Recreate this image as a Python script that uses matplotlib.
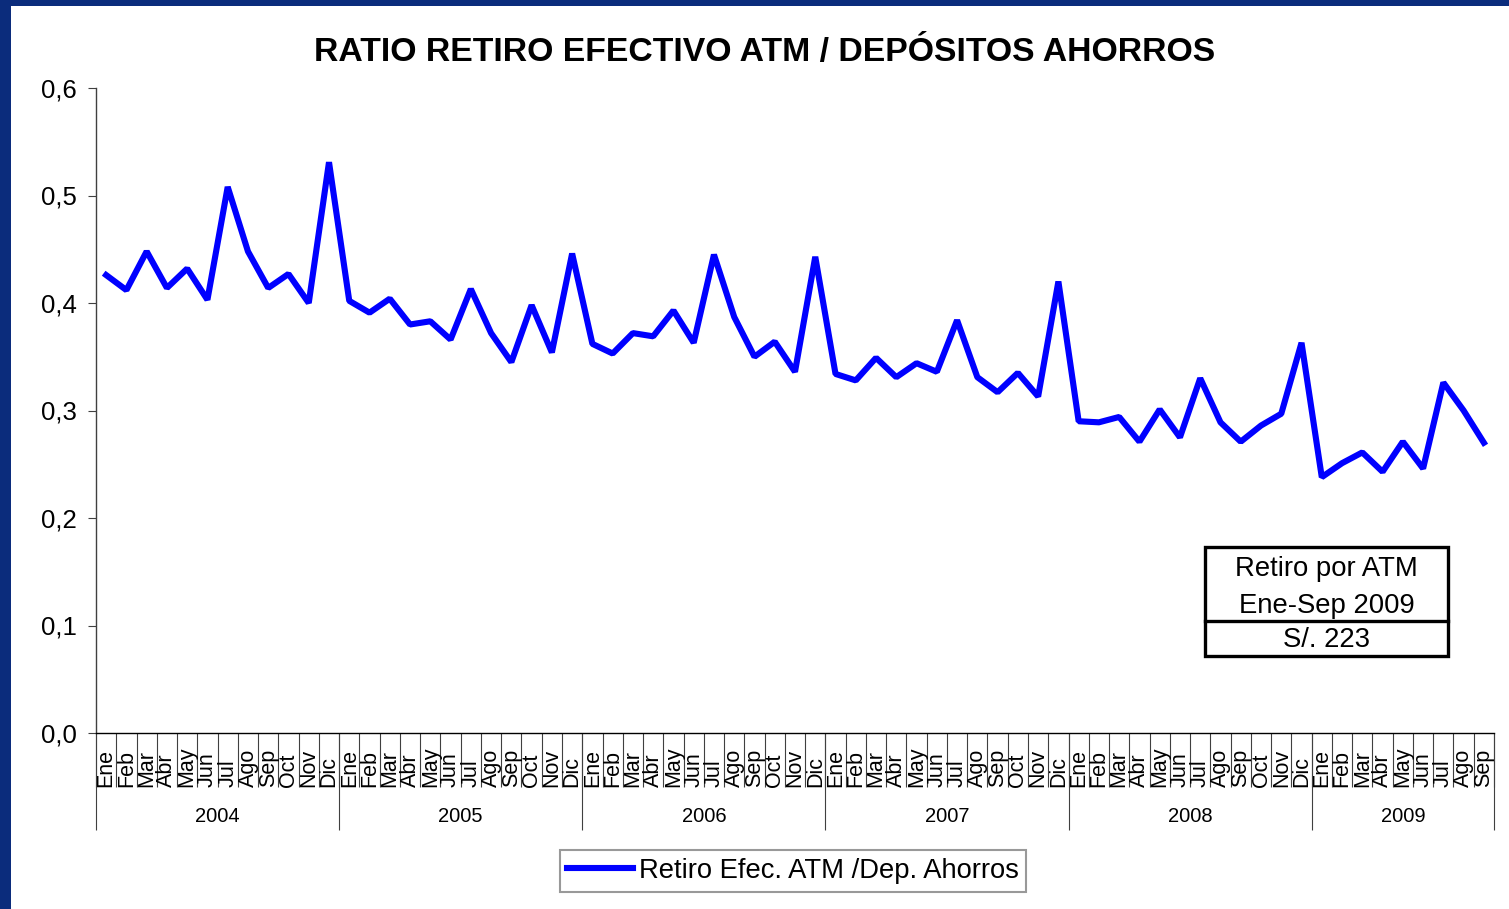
import matplotlib
matplotlib.use('Agg')
import matplotlib.pyplot as plt
import matplotlib.transforms as mtransforms
from matplotlib.patches import Rectangle
from matplotlib.lines import Line2D
from matplotlib.ticker import FuncFormatter, FixedLocator

plt.rcParams['font.family'] = ['Liberation Sans', 'DejaVu Sans']

# Data
months = ['Ene', 'Feb', 'Mar', 'Abr', 'May', 'Jun', 'Jul', 'Ago', 'Sep', 'Oct', 'Nov', 'Dic']
years = ['2004', '2005', '2006', '2007', '2008', '2009']
ratio_2004 = [0.426, 0.412, 0.448, 0.414, 0.432, 0.403, 0.508, 0.448, 0.414, 0.427, 0.400, 0.531]
ratio_2005 = [0.402, 0.391, 0.404, 0.380, 0.383, 0.366, 0.413, 0.372, 0.345, 0.398, 0.354, 0.446]
ratio_2006 = [0.362, 0.353, 0.372, 0.369, 0.393, 0.363, 0.445, 0.387, 0.350, 0.364, 0.336, 0.443]
ratio_2007 = [0.334, 0.328, 0.349, 0.331, 0.344, 0.336, 0.384, 0.331, 0.317, 0.335, 0.313, 0.420]
ratio_2008 = [0.290, 0.289, 0.294, 0.271, 0.301, 0.275, 0.330, 0.289, 0.271, 0.286, 0.297, 0.363]
ratio_2009 = [0.238, 0.251, 0.261, 0.243, 0.271, 0.246, 0.326, 0.300, 0.270]

title = 'RATIO RETIRO EFECTIVO ATM / DEPÓSITOS AHORROS'
series_name = 'Retiro Efec. ATM /Dep. Ahorros'
box_title = ['Retiro por ATM', 'Ene-Sep 2009']
box_value = 'S/. 223'

# build the monthly series
by_year = [ratio_2004, ratio_2005, ratio_2006, ratio_2007, ratio_2008, ratio_2009]
values = []
month_labels = []
year_index = []
for yi, vals in enumerate(by_year):
    values += vals
    month_labels += months[:len(vals)]
    year_index += [yi] * len(vals)
x = list(range(len(values)))

W, H = 1509, 909
fig = plt.figure(figsize=(W / 100, H / 100), dpi=100, facecolor='#0b2c7c')
# white slide area
fig.patches.append(Rectangle((11 / W, 0), 1 - 11 / W, 1 - 6 / H, transform=fig.transFigure,
                             facecolor='white', edgecolor='none', zorder=-5))

ax = fig.add_axes([96 / W, 1 - 733 / H, (1494 - 96) / W, (733 - 88) / H])
ax.set_facecolor('none')
ax.plot(x, values, color='#0000ff', linewidth=4.4, solid_joinstyle='bevel', clip_on=False)

ax.set_ylim(0, 0.6)
ax.set_xlim(-0.5, len(values) - 0.5)
ax.set_yticks([0, 0.1, 0.2, 0.3, 0.4, 0.5, 0.6])
ax.yaxis.set_major_formatter(FuncFormatter(lambda v, _: f'{v:.1f}'.replace('.', ',')))
ax.tick_params(axis='y', direction='out', length=6, width=0.8, color='#404040',
               labelsize=18.5, pad=8)

for s in ['top', 'right']:
    ax.spines[s].set_visible(False)
ax.spines['left'].set_color('#404040')
ax.spines['bottom'].set_color('black')
ax.spines['left'].set_linewidth(1)
ax.spines['bottom'].set_linewidth(1)

# month separators (major) and year separators (minor)
month_bounds = [i - 0.5 for i in range(len(values) + 1)]
year_bounds = [-0.5]
for yi in range(len(by_year)):
    year_bounds.append(year_bounds[-1] + len(by_year[yi]))
ax.xaxis.remove_overlapping_locs = False
ax.xaxis.set_major_locator(FixedLocator(month_bounds))
ax.xaxis.set_minor_locator(FixedLocator(year_bounds))
ax.tick_params(axis='x', which='major', direction='out', length=39, width=0.8,
               color='#404040', labelbottom=False)
ax.tick_params(axis='x', which='minor', direction='out', length=70, width=0.8,
               color='#404040', labelbottom=False)

trans = mtransforms.blended_transform_factory(ax.transData, ax.transAxes)
for xi, lab in zip(x, month_labels):
    ax.text(xi, -54 / 645, lab, transform=trans, rotation=90, ha='center', va='bottom',
            fontsize=15.5, color='black')
for yi, yr in enumerate(years):
    idx = [xi for xi, k in zip(x, year_index) if k == yi]
    ax.text(sum(idx) / len(idx), -83 / 645, yr, transform=trans, ha='center', va='center',
            fontsize=14.5, color='black')

fig.text(765 / W, 1 - 53 / H, title, ha='center', va='center', fontsize=24.3,
         fontweight='bold', color='black')

# legend
handle = Line2D([], [], color='#0000ff', linewidth=4.4)
leg = fig.legend([handle], [series_name], loc='center', bbox_to_anchor=(793 / W, 1 - 871 / H),
                 bbox_transform=fig.transFigure, fontsize=19.7, frameon=True, fancybox=False,
                 handlelength=2.4, handletextpad=0.2, borderpad=0.28, borderaxespad=0)
leg.get_frame().set_edgecolor('#808080')
leg.get_frame().set_linewidth(1.5)

# info box
bx0, bx1 = 1205 / W, 1448 / W
by0, by1, bmid = 1 - 656 / H, 1 - 547 / H, 1 - 621 / H
fig.patches.append(Rectangle((bx0, by0), bx1 - bx0, by1 - by0, transform=fig.transFigure,
                             facecolor='white', edgecolor='black', linewidth=2.4, zorder=5))
fig.lines.append(Line2D([bx0, bx1], [bmid, bmid], transform=fig.transFigure,
                        color='black', linewidth=2.4, zorder=6))
fig.text((bx0 + bx1) / 2, 1 - 569 / H, box_title[0], ha='center', va='center', fontsize=19.8, zorder=7)
fig.text((bx0 + bx1) / 2, 1 - 606 / H, box_title[1], ha='center', va='center', fontsize=19.8, zorder=7)
fig.text((bx0 + bx1) / 2, 1 - 640 / H, box_value, ha='center', va='center', fontsize=19.8, zorder=7)

fig.savefig('out.png', dpi=100, facecolor=fig.get_facecolor())
